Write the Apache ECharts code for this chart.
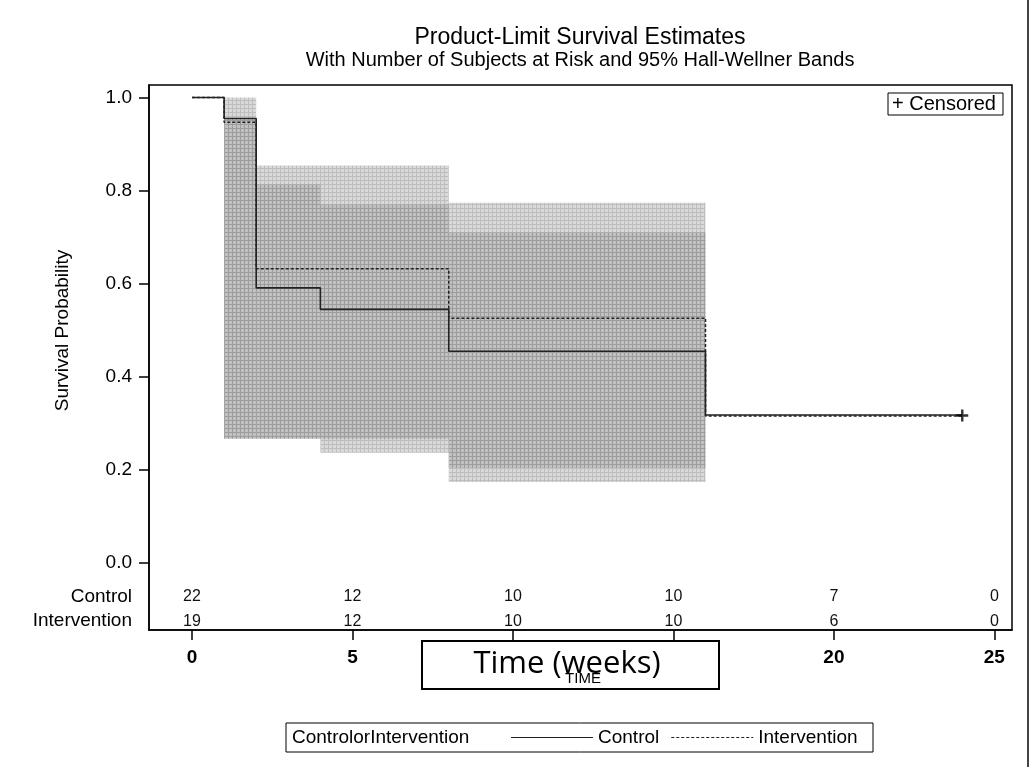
<!DOCTYPE html>
<html><head><meta charset="utf-8">
<script src="https://cdn.jsdelivr.net/npm/echarts@6/dist/echarts.min.js"></script>
<style>html,body{margin:0;padding:0;background:#fff}#c{width:1033px;height:767px}</style>
</head><body><div id="c"></div>
<script>
// Kaplan-Meier step values
const controlTimes = [0, 1, 2, 4, 8, 16, 24];
const controlSurv = [1, 0.955, 0.591, 0.545, 0.455, 0.318, 0.318];
const interventionTimes = [0, 1, 2, 8, 16, 24];
const interventionSurv = [1, 0.947, 0.632, 0.526, 0.316, 0.316];
const censorTimes = [24];
const censorSurv = [0.317];
// Hall-Wellner band pieces: [start, end, lower, upper]
const controlBand = [[1, 2, 0.267, 1.0], [2, 4, 0.267, 0.813], [4, 8, 0.237, 0.770], [8, 16, 0.174, 0.710]];
const interventionBand = [[1, 2, 0.267, 0.953], [2, 8, 0.267, 0.854], [8, 16, 0.204, 0.774]];
// Number at risk
const riskTimes = [0, 5, 10, 15, 20, 25];
const riskControl = [22, 12, 10, 10, 7, 0];
const riskIntervention = [19, 12, 10, 10, 6, 0];
const riskRowNames = ['Control', 'Intervention'];
const riskRowY = [-0.073, -0.125];
const xTicks = [0, 5, 10, 15, 20, 25];
const yTicks = [0, 0.2, 0.4, 0.6, 0.8, 1.0];

const FONT = 'Liberation Sans, Arial, sans-serif';

function makePattern() {
  const c = document.createElement('canvas');
  c.width = 4; c.height = 4;
  const g = c.getContext('2d');
  g.fillStyle = 'rgba(150,150,150,0.36)';
  g.fillRect(0, 0, 4, 4);
  g.fillStyle = 'rgba(90,90,90,0.22)';
  g.fillRect(0, 0, 4, 1);
  g.fillRect(0, 1, 1, 3);
  return c;
}
const pat = makePattern();

function bandRender(params, api) {
  const p0 = api.coord([api.value(0), api.value(3)]);
  const p1 = api.coord([api.value(1), api.value(2)]);
  return {
    type: 'rect',
    shape: { x: p0[0], y: p0[1], width: p1[0] - p0[0], height: p1[1] - p0[1] },
    style: { fill: { image: pat, repeat: 'repeat' } }
  };
}

function riskRender(row) {
  return function (params, api) {
    const p = api.coord([api.value(0), riskRowY[row]]);
    return {
      type: 'text', x: p[0], y: p[1],
      style: { text: String(api.value(1)), fontSize: 16, fontFamily: FONT, fill: '#111', align: 'center', verticalAlign: 'middle' }
    };
  };
}

function dashPath(w, dash, gap) {
  let d = '';
  for (let x = 0; x < w; x += dash + gap) d += 'M' + x + ',0H' + Math.min(x + dash, w) + 'V1H' + x + 'Z';
  return 'path://' + d;
}

const chart = echarts.init(document.getElementById('c'), null, { renderer: 'canvas' });
chart.setOption({
  animation: false,
  backgroundColor: '#fff',
  title: {
    text: 'Product-Limit Survival Estimates',
    subtext: 'With Number of Subjects at Risk and 95% Hall-Wellner Bands',
    left: 580, top: 26, textAlign: 'center', padding: 0, itemGap: 1,
    textStyle: { fontSize: 23, fontWeight: 'normal', color: '#000', fontFamily: FONT },
    subtextStyle: { fontSize: 20, color: '#000', fontFamily: FONT }
  },
  grid: { left: 149, right: 21, top: 85, bottom: 137, show: true, borderColor: '#000', borderWidth: 1.5 },
  xAxis: {
    type: 'value', min: -1.34, max: 25.55,
    axisLine: { onZero: false, lineStyle: { color: '#000', width: 1.5 } },
    axisTick: { customValues: xTicks, length: 10, lineStyle: { color: '#000', width: 1.5 } },
    axisLabel: { customValues: xTicks, fontSize: 19, fontWeight: 'bold', color: '#000', margin: 18, fontFamily: FONT },
    splitLine: { show: false },
    name: 'TIME', nameLocation: 'middle', nameGap: 42, nameMoveOverlap: false,
    nameTextStyle: { fontSize: 15, color: '#000', fontFamily: FONT, padding: [0, 0, 0, 26] }
  },
  yAxis: {
    type: 'value', min: -0.144, max: 1.027,
    axisLine: { onZero: false, lineStyle: { color: '#000', width: 1.5 } },
    axisTick: { customValues: yTicks, length: 10, lineStyle: { color: '#000', width: 1.5 } },
    axisLabel: {
      customValues: riskRowY.concat(yTicks), fontSize: 19, color: '#000', margin: 17, fontFamily: FONT,
      formatter: function (v) {
        for (let i = 0; i < riskRowY.length; i++) if (Math.abs(v - riskRowY[i]) < 1e-6) return riskRowNames[i];
        return v.toFixed(1);
      }
    },
    splitLine: { show: false },
    name: 'Survival Probability', nameLocation: 'middle', nameGap: 77, nameRotate: 90, nameMoveOverlap: false,
    nameTextStyle: { fontSize: 19, color: '#000', fontFamily: FONT, padding: [0, 0, 0, 54] }
  },
  legend: {
    data: [
      { name: 'Control', icon: 'path://M0,0H82V1H0Z' },
      { name: 'Intervention', icon: dashPath(82, 3, 2) }
    ],
    left: 511, top: 728, itemWidth: 82, itemHeight: 1.5, itemGap: 12, padding: 0,
    itemStyle: { color: '#222', borderWidth: 0 },
    textStyle: { fontSize: 19, color: '#000', fontFamily: FONT },
    selectedMode: false
  },
  series: [
    { name: 'Control band', type: 'custom', renderItem: bandRender, data: controlBand, encode: { x: [0, 1], y: [2, 3] }, z: 1, silent: true },
    { name: 'Intervention band', type: 'custom', renderItem: bandRender, data: interventionBand, encode: { x: [0, 1], y: [2, 3] }, z: 1, silent: true },
    {
      name: 'Control', type: 'line', step: 'end', symbol: 'none', z: 3,
      data: controlTimes.map((t, i) => [t, controlSurv[i]]),
      lineStyle: { color: '#222', width: 1.6, type: 'solid' }, itemStyle: { color: '#222' }
    },
    {
      name: 'Intervention', type: 'line', step: 'end', symbol: 'none', z: 3,
      data: interventionTimes.map((t, i) => [t, interventionSurv[i]]),
      lineStyle: { color: '#222', width: 1.5, type: [3, 2] }, itemStyle: { color: '#222' }
    },
    {
      name: 'Censored', type: 'scatter', z: 4,
      symbol: 'path://M0,4H10V6H0Z M4,0H6V10H4Z', symbolSize: 12,
      itemStyle: { color: '#000' },
      data: censorTimes.map((t, i) => [t, censorSurv[i]])
    },
    { name: 'riskC', type: 'custom', renderItem: riskRender(0), data: riskTimes.map((t, i) => [t, riskControl[i]]), encode: { x: 0, y: -1 }, silent: true, clip: false },
    { name: 'riskI', type: 'custom', renderItem: riskRender(1), data: riskTimes.map((t, i) => [t, riskIntervention[i]]), encode: { x: 0, y: -1 }, silent: true, clip: false }
  ],
  graphic: [
    { type: 'rect', z: -1, shape: { x: 286, y: 723, width: 587, height: 29 }, style: { fill: '#fff', stroke: '#000', lineWidth: 1 } },
    { type: 'text', x: 292, y: 738, style: { text: 'ControlorIntervention', fontSize: 19, fontFamily: FONT, fill: '#000', verticalAlign: 'middle' } },
    { type: 'rect', shape: { x: 888, y: 93, width: 115, height: 22 }, style: { fill: '#fff', stroke: '#000', lineWidth: 1 } },
    { type: 'text', x: 892, y: 104.5, style: { text: '+ Censored', fontSize: 20, fontFamily: FONT, fill: '#000', verticalAlign: 'middle' } },
    { type: 'line', shape: { x1: 1028, y1: 0, x2: 1028, y2: 767 }, style: { stroke: '#444', lineWidth: 2 } },
    { type: 'rect', z: 100, shape: { x: 422, y: 641, width: 297, height: 48 }, style: { fill: '#fff', stroke: '#000', lineWidth: 2 } },
    { type: 'text', z: 101, x: 567, y: 664, style: { text: 'Time (weeks)', fontSize: 31, fontFamily: 'Open Sans, Carlito, sans-serif', fill: '#000', align: 'center', verticalAlign: 'middle' } },
    { type: 'text', z: 102, x: 583, y: 679, style: { text: 'TIME', fontSize: 15, fontFamily: FONT, fill: '#000', align: 'center', verticalAlign: 'middle' } }
  ]
});
</script>
</body></html>
